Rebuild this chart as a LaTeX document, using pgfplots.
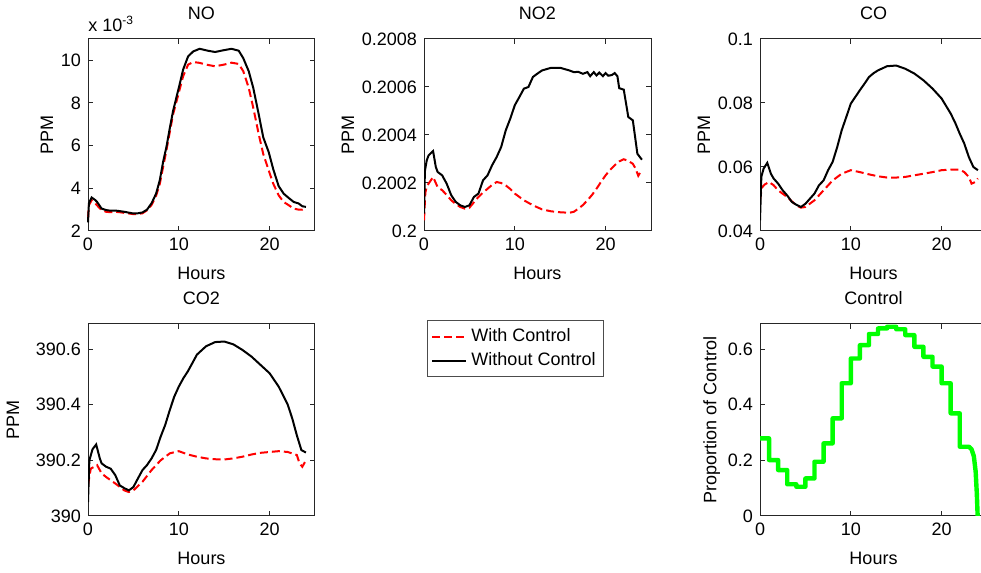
\documentclass[border=0pt]{standalone}
\usepackage{fontspec}
\setmainfont{Liberation Sans}
\usepackage{pgfplots}
\pgfplotsset{compat=1.18}
\definecolor{mred}{rgb}{1,0,0}
\definecolor{mgreen}{rgb}{0,1,0}
\newcommand\fsz{\fontsize{9}{10.8}\selectfont}
\pgfplotsset{
 mstyle/.style={
  scale only axis, width=113.5pt, height=96pt,
  xmin=0, xmax=25, xtick={0,10,20},
  tick align=inside, xtick pos=both, ytick pos=both,
  xticklabel pos=lower, yticklabel pos=left,
  major tick length=2.5pt,
  axis line style={black!85, line width=0.5pt},
  every tick/.style={black!85, line width=0.5pt},
  tick label style={font=\fsz},
  label style={font=\fsz},
  ylabel shift=-3pt,
  xlabel shift=1.5pt,
  every axis title/.style={at={(0.5,1)}, anchor=base, yshift=9.75pt, font=\fsz},
  /pgf/number format/assume math mode=true,
  xlabel={Hours},
  scaled ticks=false,
 },
 wc/.style={mred, line width=1pt, dash pattern=on 4pt off 2pt},
 woc/.style={black, line width=1pt},
}
\begin{document}
\begin{tikzpicture}
% ---------------- NO ----------------
\begin{axis}[mstyle, at={(44pt,171pt)}, anchor=south west, title={NO}, ylabel={PPM},
  ymin=2, ymax=11, ytick={2,4,6,8,10}, clip=false]
\addplot[wc] coordinates {(0,2.6)(0.1,3.2)(0.4,3.45)(0.8,3.3)(1,3.2)(1.5,2.98)(2,2.9)(2.5,2.88)(3,2.9)(3.5,2.88)(4,2.85)(4.5,2.82)(5,2.79)(5.5,2.8)(6,2.83)(6.5,2.97)(7,3.22)(7.5,3.65)(7.9,4.2)(8.63,5.77)(9.37,7.47)(10,8.48)(10.48,9.26)(11.03,9.8)(11.6,9.92)(12.3,9.88)(13,9.8)(14,9.72)(15,9.8)(15.8,9.89)(16.6,9.83)(17.1,9.49)(17.7,8.71)(18.2,7.78)(18.8,6.54)(19.3,5.61)(19.9,4.84)(20.4,4.22)(21,3.67)(21.55,3.36)(22.1,3.21)(22.66,3.05)(23.2,3.0)(23.6,3.0)(24,3.08)};
\addplot[woc] coordinates {(0,2.4)(0.1,3.3)(0.4,3.57)(0.8,3.45)(1,3.36)(1.5,3.05)(2,2.98)(2.5,2.95)(3,2.96)(3.5,2.93)(4,2.9)(4.5,2.86)(5,2.82)(5.5,2.83)(6,2.87)(6.5,3.0)(7,3.3)(7.5,3.75)(7.9,4.37)(8.3,5.3)(8.63,5.92)(9,6.8)(9.37,7.63)(10,8.71)(10.48,9.57)(11.03,10.19)(11.6,10.42)(12.3,10.54)(13.2,10.45)(14,10.39)(14.9,10.47)(15.8,10.54)(16.6,10.45)(17.1,10.1)(17.7,9.49)(18.2,8.71)(18.8,7.47)(19.3,6.39)(19.9,5.7)(20.4,4.9)(21,4.1)(21.55,3.75)(22.1,3.55)(22.66,3.36)(23.2,3.29)(23.6,3.16)(24,3.13)};
\node[anchor=base west, inner sep=0pt, font=\fsz] at (rel axis cs:0,1) [yshift=3.5pt] {x 10\textsuperscript{-3}};
\end{axis}
% ---------------- NO2 ----------------
\begin{axis}[mstyle, at={(212pt,171pt)}, anchor=south west, title={NO2}, ylabel={PPM},
  ymin=0.2, ymax=0.2008, ytick={0.2,0.2002,0.2004,0.2006,0.2008},
  yticklabels={0.2,0.2002,0.2004,0.2006,0.2008}]
\addplot[wc] coordinates {(0,0.200044)(0.15,0.20016)(0.3,0.200185)(0.5,0.200197)(1,0.200225)(1.5,0.200183)(2,0.20017)(2.5,0.20015)(3,0.200128)(3.5,0.200112)(4,0.2001)(4.5,0.200093)(5,0.200097)(5.5,0.20012)(6,0.200142)(6.5,0.20016)(7,0.200176)(7.5,0.200192)(8,0.200204)(8.5,0.2002)(9,0.20019)(9.5,0.200175)(10,0.200156)(11,0.200128)(12,0.200107)(13,0.20009)(14,0.200082)(15,0.200078)(16,0.200076)(16.5,0.20008)(17,0.200093)(17.5,0.200108)(18,0.200128)(18.5,0.20015)(19,0.200176)(19.5,0.200205)(20,0.200232)(20.5,0.200255)(21,0.200274)(21.5,0.20029)(22,0.200299)(22.5,0.200292)(23,0.20028)(23.3,0.20026)(23.6,0.20023)(24,0.200256)};
\addplot[woc] coordinates {(0,0.200072)(0.1,0.20025)(0.3,0.200294)(0.5,0.200315)(1,0.200333)(1.3,0.200267)(1.5,0.200246)(2,0.200232)(2.5,0.200197)(3,0.200149)(3.5,0.200121)(4,0.200107)(4.5,0.2001)(5,0.200107)(5.5,0.200142)(6,0.200156)(6.5,0.200211)(7,0.200232)(7.5,0.200274)(8,0.200308)(8.5,0.20035)(9,0.200419)(9.5,0.200468)(10,0.200524)(10.5,0.200558)(11,0.200593)(11.5,0.2006)(12,0.200642)(12.5,0.200656)(13,0.200669)(14,0.20068)(15,0.20068)(16,0.200669)(16.5,0.200662)(17,0.200663)(17.5,0.200655)(18,0.200662)(18.3,0.200645)(18.7,0.200662)(19,0.200648)(19.3,0.20066)(19.7,0.200645)(20,0.200658)(20.3,0.200647)(20.7,0.20065)(21,0.200658)(21.3,0.200645)(21.5,0.200595)(22,0.200589)(22.5,0.200475)(23,0.200461)(23.5,0.200322)(24,0.200297)};
\end{axis}
% ---------------- CO ----------------
\begin{axis}[mstyle, at={(380pt,171pt)}, anchor=south west, title={CO}, ylabel={PPM},
  ymin=0.04, ymax=0.1, ytick={0.04,0.06,0.08,0.1},
  yticklabels={0.04,0.06,0.08,0.1}]
\addplot[wc] coordinates {(0,0.0496)(0.2,0.0535)(0.5,0.0545)(1,0.0553)(1.5,0.0543)(2,0.0527)(3,0.0506)(4,0.048)(4.5,0.0473)(5,0.0475)(6,0.0496)(7,0.0527)(8,0.0558)(9,0.0579)(10,0.059)(11,0.0584)(12,0.0577)(13,0.0571)(14,0.0567)(15,0.0567)(16,0.0569)(17,0.0574)(18,0.0579)(19,0.0584)(20,0.059)(21,0.0592)(22,0.0592)(22.5,0.0584)(23,0.0569)(23.3,0.0548)(23.7,0.0553)(24,0.0564)};
\addplot[woc] coordinates {(0,0.0433)(0.15,0.057)(0.4,0.0595)(0.8,0.0613)(1.2,0.0579)(1.5,0.0564)(2,0.0548)(2.5,0.0527)(3,0.0511)(3.5,0.0491)(4,0.0482)(4.5,0.0475)(5,0.0485)(5.5,0.0501)(6,0.0517)(6.5,0.0543)(7,0.0558)(7.5,0.059)(8,0.0616)(8.5,0.0662)(9,0.0715)(9.5,0.0756)(10,0.0798)(10.5,0.0819)(11,0.084)(11.5,0.086)(12,0.0881)(12.5,0.0893)(13,0.0902)(14,0.0915)(15,0.0917)(16,0.0907)(17,0.0892)(18,0.0871)(19,0.0845)(20,0.0814)(21,0.0767)(21.5,0.0738)(22,0.0704)(22.5,0.0673)(23,0.0631)(23.5,0.06)(24,0.059)};
\end{axis}
% ---------------- CO2 ----------------
\begin{axis}[mstyle, at={(44pt,28.5pt)}, anchor=south west, title={CO2}, ylabel={PPM},
  ylabel shift=1.5pt,
  ymin=390, ymax=390.69, ytick={390,390.2,390.4,390.6},
  yticklabels={390,390.2,390.4,390.6},
  legend image code/.code={\draw[#1] (0pt,0pt) -- (17pt,0pt);},
  legend cell align=left,
  legend style={at={(1.4934,1.0208)}, anchor=north west, draw=black!70, line width=0.5pt,
    font=\fsz, inner xsep=2pt, inner ysep=2pt, row sep=0pt}]
\addplot[wc] coordinates {(0,390.11)(0.3,390.17)(1,390.183)(1.5,390.153)(2,390.14)(3,390.117)(4,390.092)(4.5,390.086)(5,390.092)(6,390.123)(7,390.165)(8,390.2)(9,390.225)(10,390.233)(11,390.221)(12,390.213)(13,390.207)(14,390.204)(15,390.203)(16,390.207)(17,390.213)(18,390.221)(19,390.227)(20,390.23)(21,390.233)(22,390.23)(23,390.219)(23.3,390.189)(23.6,390.177)(24,390.2)};
\addlegendentry{With Control}
\addplot[woc] coordinates {(0,390.05)(0.15,390.2)(0.5,390.24)(0.9,390.257)(1.3,390.207)(1.5,390.189)(2,390.177)(2.5,390.17)(3,390.147)(3.5,390.11)(4,390.1)(4.5,390.092)(5,390.104)(5.5,390.135)(6,390.165)(6.5,390.183)(7,390.207)(7.5,390.237)(8,390.285)(8.5,390.327)(9,390.38)(9.5,390.429)(10,390.465)(10.5,390.495)(11,390.52)(11.5,390.55)(12,390.58)(13,390.61)(14,390.625)(15,390.627)(16,390.617)(17,390.597)(18,390.573)(19,390.543)(20,390.513)(21,390.465)(22,390.4)(22.5,390.35)(23,390.29)(23.5,390.237)(24,390.228)};
\addlegendentry{Without Control}
\end{axis}
% ---------------- Control ----------------
\begin{axis}[mstyle, at={(380pt,28.5pt)}, anchor=south west, title={Control}, ylabel={Proportion of Control},
  ymin=0, ymax=0.69, ytick={0,0.2,0.4,0.6}, yticklabels={0,0.2,0.4,0.6}]
\addplot[mgreen, line width=2.2pt, line join=round] coordinates {(0,0.279)(1,0.279)(1,0.201)(2,0.201)(2,0.165)(3,0.165)(3,0.114)(4,0.114)(4,0.105)(5,0.105)(5,0.135)(6,0.135)(6,0.195)(7,0.195)(7,0.261)(8,0.261)(8,0.351)(9,0.351)(9,0.477)(10,0.477)(10,0.566)(11,0.566)(11,0.614)(12,0.614)(12,0.654)(13,0.654)(13,0.674)(14,0.674)(14,0.68)(15,0.68)(15,0.671)(16,0.671)(16,0.65)(17,0.65)(17,0.608)(18,0.608)(18,0.572)(19,0.572)(19,0.537)(20,0.537)(20,0.477)(21,0.477)(21,0.369)(22,0.369)(22,0.249)(23,0.249)(23.3,0.24)(23.55,0.215)(23.75,0.16)(23.88,0.08)(23.97,0)};
\end{axis}
\pgfresetboundingbox
\path[use as bounding box] (0pt,0pt) rectangle (490.5pt,286.5pt);
\end{tikzpicture}
\end{document}
